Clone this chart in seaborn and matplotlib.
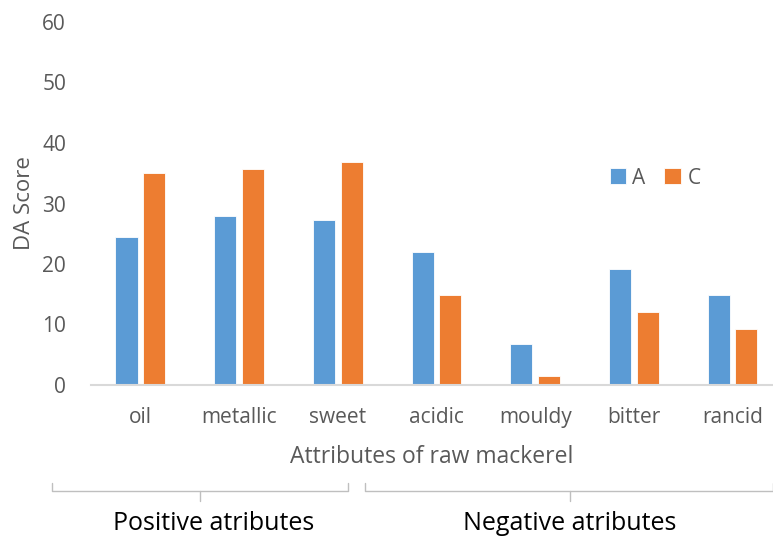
import matplotlib
matplotlib.use("Agg")
import matplotlib.pyplot as plt
import seaborn as sns
import pandas as pd
from matplotlib.lines import Line2D

categories = ["oil", "metallic", "sweet", "acidic", "mouldy", "bitter", "rancid"]
values_A = [24.4, 28.0, 27.2, 22.0, 6.8, 19.1, 14.9]
values_C = [35.0, 35.7, 36.9, 14.9, 1.5, 12.1, 9.3]
series = ["A", "C"]
y_ticks = [0, 10, 20, 30, 40, 50, 60]

df = pd.DataFrame({
    "attr": categories * 2,
    "score": values_A + values_C,
    "series": ["A"] * len(categories) + ["C"] * len(categories),
})

sns.set_theme(style="white")
plt.rcParams["font.family"] = ["Open Sans", "DejaVu Sans"]
gray = "#595959"

W, H = 773, 538
fig = plt.figure(figsize=(W / 100, H / 100), dpi=100)
ax = fig.add_axes([91 / W, 1 - 385 / H, (773 - 91) / W, (385 - 22) / H])

sns.barplot(data=df, x="attr", y="score", hue="series", order=categories,
            hue_order=series, palette=["#5B9BD5", "#ED7D31"], saturation=1,
            width=0.56, gap=0.2, edgecolor="white", linewidth=0.6, ax=ax,
            legend=True)

ax.set_xlim(-0.5, 6.41)
ax.set_ylim(0, 60)
ax.set_yticks(y_ticks)
for s in ["top", "right", "left"]:
    ax.spines[s].set_visible(False)
ax.spines["bottom"].set_color("#D9D9D9")
ax.spines["bottom"].set_linewidth(1.5)
ax.tick_params(axis="both", length=0, labelsize=15, labelcolor=gray)
ax.tick_params(axis="y", pad=18)
ax.tick_params(axis="x", pad=16)
ax.set_xlabel("Attributes of raw mackerel", fontsize=16.5, color=gray, labelpad=12)
ax.set_ylabel("DA Score", fontsize=16, color=gray, labelpad=5)
ax.grid(False)

leg = ax.legend(loc="center", bbox_to_anchor=(655 / W, 1 - 178 / H),
                bbox_transform=fig.transFigure, ncol=2, frameon=False,
                handlelength=0.8, handleheight=0.8, handletextpad=0.3,
                columnspacing=0.9, fontsize=15)
for t in leg.get_texts():
    t.set_color(gray)

# brackets below the axis
def px(x, y):
    return x / W, 1 - y / H

bc = "#BFBFBF"
for x0, x1, xm in [(52, 348, 200), (365, 773, 570)]:
    xs = [x0, x0, x1, x1]
    ys = [483, 491, 491, 483]
    fig.add_artist(Line2D([x / W for x in xs], [1 - y / H for y in ys],
                          color=bc, lw=1, transform=fig.transFigure))
    fig.add_artist(Line2D([xm / W, xm / W], [1 - 491 / H, 1 - 501 / H],
                          color=bc, lw=1, transform=fig.transFigure))

fig.text(*px(214, 524), "Positive atributes", fontsize=18, color="black",
         ha="center", va="center")
fig.text(*px(570, 524), "Negative atributes", fontsize=18, color="black",
         ha="center", va="center")

fig.savefig("out.png", dpi=100)
